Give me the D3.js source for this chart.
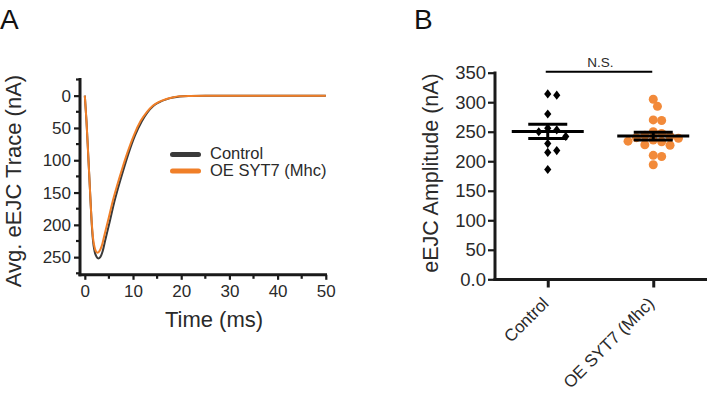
<!DOCTYPE html>
<html>
<head>
<meta charset="utf-8">
<script src="https://cdn.jsdelivr.net/npm/d3@7"></script>
<style>
  html, body { margin: 0; padding: 0; background: #fff; }
  svg { display: block; font-family: Arial, "Liberation Sans", Helvetica, sans-serif; }
</style>
</head>
<body>
<svg id="chart" width="709" height="405"></svg>
<script>
// ---------- Data ----------
// Panel A: averaged eEJC traces (time in ms, current in nA, plotted downward)
const controlTime = [0, 0.35, 0.7, 1.05, 1.4, 1.7, 2.0, 2.4, 2.8, 3.2, 3.7, 4.2, 5.2, 6.0, 6.9, 8.0, 9.0, 10.4, 11.8, 13.0, 14.2, 15.5, 16.9, 18.3, 19.7, 22, 25, 30, 40, 50];
const controlTrace = [0, 40, 91, 143, 194, 225, 240, 249, 252, 250, 241, 225, 194, 168, 143, 115, 91, 62, 40, 26, 16, 10, 5.8, 3, 1.2, 0.4, 0, 0, 0, 0];
const oeTime = [0, 0.35, 0.7, 1.05, 1.4, 1.7, 2.0, 2.3, 2.6, 3.0, 3.5, 4.0, 5.0, 5.8, 6.7, 7.8, 8.8, 10.2, 11.6, 12.9, 14.1, 15.4, 16.8, 18.2, 19.6, 22, 25, 30, 40, 50];
const oeTrace = [0, 40, 91, 143, 192, 220, 234, 241, 243, 241, 233, 218, 188, 163, 139, 112, 89, 61, 39, 25, 15.5, 9.5, 5.5, 2.8, 1.1, 0.4, 0, 0, 0, 0];
const seriesNames = ["Control", "OE SYT7 (Mhc)"];

const traceYTicks = [0, 50, 100, 150, 200, 250];
const traceXTicks = [0, 10, 20, 30, 40, 50];

// Panel B: individual eEJC amplitudes (nA)
const categories = ["Control", "OE SYT7 (Mhc)"];
const controlAmps = [314, 312, 280, 256, 253, 250, 242, 230, 218, 215, 186];
const oeAmps = [305, 293, 270, 269, 250, 247, 244, 242, 240, 239, 236, 234, 233, 228, 227, 210, 208, 194];
const ampTicks = [0, 50, 100, 150, 200, 250, 300, 350];
const sigLabel = "N.S.";

// ---------- Styles ----------
const colControl = "#3a3a3a";
const colOE = "#f07f28";
const colOEdot = "#f28a3a";
const ink = "#1a1a1a";
const txt = "#2a2a2a";

const svg = d3.select("#chart");

// ================= Panel A =================
const xA = d3.scaleLinear().domain([-1, 50]).range([80, 325.8]);
const yA = d3.scaleLinear().domain([-25, 275]).range([79.5, 273.3]);
const axisYA = 274.8;

const gA = svg.append("g");

// traces
const line = d3.line().x(d => xA(d[0])).y(d => yA(d[1])).curve(d3.curveMonotoneX);
const ctrlPts = controlTime.map((t, i) => [t, controlTrace[i]]);
const oePts = oeTime.map((t, i) => [t, oeTrace[i]]);
gA.append("path").attr("d", line(ctrlPts)).attr("fill", "none").attr("stroke", colControl).attr("stroke-width", 2);
gA.append("path").attr("d", line(oePts)).attr("fill", "none").attr("stroke", colOE).attr("stroke-width", 2);

// y axis (major labels + minor ticks every 25)
const yAxisA = d3.axisLeft(yA).tickValues(traceYTicks).tickSize(6).tickPadding(3).tickFormat(d3.format("d"));
const gyA = gA.append("g").attr("transform", "translate(80,0)").call(yAxisA);
gyA.select(".domain").remove();
gyA.selectAll(".tick line").attr("stroke", ink).attr("stroke-width", 2.2);
gyA.selectAll(".tick text").attr("font-size", 17).attr("fill", txt);
const minorY = d3.range(-25, 276, 25).filter(v => !traceYTicks.includes(v));
gA.append("g").selectAll("line").data(minorY).join("line")
  .attr("x1", 76).attr("x2", 80).attr("y1", d => yA(d)).attr("y2", d => yA(d))
  .attr("stroke", ink).attr("stroke-width", 2.2);
gA.append("line").attr("x1", 80).attr("x2", 80).attr("y1", 78).attr("y2", axisYA + 1.5)
  .attr("stroke", ink).attr("stroke-width", 3);

// x axis
const xAxisA = d3.axisBottom(xA).tickValues(traceXTicks).tickSize(5).tickPadding(5).tickFormat(d3.format("d"));
const gxA = gA.append("g").attr("transform", `translate(0,${axisYA})`).call(xAxisA);
gxA.select(".domain").remove();
gxA.selectAll(".tick line").attr("stroke", ink).attr("stroke-width", 2.2);
gxA.selectAll(".tick text").attr("font-size", 17).attr("fill", txt);
const minorX = d3.range(5, 50, 10);
gA.append("g").selectAll("line").data(minorX).join("line")
  .attr("x1", d => xA(d)).attr("x2", d => xA(d)).attr("y1", axisYA).attr("y2", axisYA + 4)
  .attr("stroke", ink).attr("stroke-width", 2.2);
gA.append("line").attr("x1", 78.5).attr("x2", 327).attr("y1", axisYA).attr("y2", axisYA)
  .attr("stroke", ink).attr("stroke-width", 3);

// titles
gA.append("text").attr("x", 214).attr("y", 326.5).attr("text-anchor", "middle")
  .attr("font-size", 22).attr("fill", txt).text("Time (ms)");
gA.append("text").attr("transform", "translate(20.5,181) rotate(-90)").attr("text-anchor", "middle")
  .attr("font-size", 22).attr("fill", txt).text("Avg. eEJC Trace (nA)");
gA.append("text").attr("x", 0).attr("y", 28.5).attr("font-size", 28).attr("fill", "#111").text("A");

// legend
const legColors = [colControl, colOE];
const leg = gA.append("g").selectAll("g").data(seriesNames).join("g")
  .attr("transform", (d, i) => `translate(0,${154.5 + i * 16.5})`);
leg.append("line").attr("x1", 172.5).attr("x2", 198.5).attr("y1", 0).attr("y2", 0)
  .attr("stroke", (d, i) => legColors[i]).attr("stroke-width", 5).attr("stroke-linecap", "round");
leg.append("text").attr("x", 210).attr("y", 4.5).attr("font-size", 16.5).attr("fill", txt).text(d => d);

// ================= Panel B =================
const xB = d3.scalePoint().domain(categories).range([495, 706]).padding(0.5);
const yB = d3.scaleLinear().domain([0, 350]).range([279.3, 72.7]);
const axisYB = 279.5;
const gB = svg.append("g");

// y axis
const yAxisB = d3.axisLeft(yB).tickValues(ampTicks).tickSize(7).tickPadding(2)
  .tickFormat(d => d === 0 ? "0.0" : d3.format("d")(d));
const gyB = gB.append("g").attr("transform", "translate(495,0)").call(yAxisB);
gyB.select(".domain").remove();
gyB.selectAll(".tick line").attr("stroke", ink).attr("stroke-width", 2.2);
gyB.selectAll(".tick text").attr("font-size", 18.5).attr("fill", txt);
gB.append("line").attr("x1", 495).attr("x2", 495).attr("y1", 71.5).attr("y2", axisYB + 1.5)
  .attr("stroke", ink).attr("stroke-width", 3);

// x axis
const xAxisB = d3.axisBottom(xB).tickSize(8).tickFormat("");
const gxB = gB.append("g").attr("transform", `translate(0,${axisYB})`).call(xAxisB);
gxB.select(".domain").remove();
gxB.selectAll(".tick line").attr("stroke", ink).attr("stroke-width", 3);
gB.append("line").attr("x1", 493.5).attr("x2", 707).attr("y1", axisYB).attr("y2", axisYB)
  .attr("stroke", ink).attr("stroke-width", 3);
gB.append("g").selectAll("text").data(categories).join("text")
  .attr("transform", d => `translate(${xB(d) + 2},${axisYB + 25}) rotate(-45)`)
  .attr("text-anchor", "end").attr("font-size", 17).attr("fill", txt).text(d => d);

// titles
gB.append("text").attr("transform", "translate(438,173) rotate(-90)").attr("text-anchor", "middle")
  .attr("font-size", 21.5).attr("fill", txt).text("eEJC Amplitude (nA)");
gB.append("text").attr("x", 414).attr("y", 28.5).attr("font-size", 28).attr("fill", "#111").text("B");

// swarm layout
function swarm(values, cx, step, minDist) {
  const pts = values.map(v => ({ v, y: yB(v) })).sort((a, b) => b.v - a.v);
  const placed = [];
  for (const p of pts) {
    let off = null;
    for (let k = 0; k < 60 && off === null; k++) {
      const cands = k === 0 ? [0] : [k * step / 2, -k * step / 2];
      for (const c of cands) {
        if (placed.every(q => Math.hypot(q.x - (cx + c), q.y - p.y) >= minDist)) { off = c; break; }
      }
    }
    p.x = cx + off;
    placed.push(p);
  }
  return placed;
}

const ctrlSw = swarm(controlAmps, xB(categories[0]), 9, 8.5);
const oeSw = swarm(oeAmps, xB(categories[1]), 8.4, 8.2);

gB.append("g").selectAll("path").data(ctrlSw).join("path")
  .attr("d", d => `M${d.x},${d.y - 4.6}L${d.x + 3.6},${d.y}L${d.x},${d.y + 4.6}L${d.x - 3.6},${d.y}Z`)
  .attr("fill", "#000");
gB.append("g").selectAll("circle").data(oeSw).join("circle")
  .attr("cx", d => d.x).attr("cy", d => d.y).attr("r", 4.5).attr("fill", colOEdot);

// mean ± SEM
const groups = [controlAmps, oeAmps];
groups.forEach((vals, i) => {
  const cx = xB(categories[i]);
  const m = d3.mean(vals);
  const sem = d3.deviation(vals) / Math.sqrt(vals.length);
  const g = gB.append("g").attr("stroke", "#000").attr("stroke-width", 3);
  g.append("line").attr("x1", cx - 36).attr("x2", cx + 36).attr("y1", yB(m)).attr("y2", yB(m));
  g.append("line").attr("x1", cx - 19.5).attr("x2", cx + 19.5).attr("y1", yB(m + sem)).attr("y2", yB(m + sem));
  g.append("line").attr("x1", cx - 19.5).attr("x2", cx + 19.5).attr("y1", yB(m - sem)).attr("y2", yB(m - sem));
  g.append("line").attr("x1", cx).attr("x2", cx).attr("y1", yB(m + sem)).attr("y2", yB(m - sem));
});

// significance bar
gB.append("line").attr("x1", xB(categories[0]) - 2).attr("x2", xB(categories[1]) - 1)
  .attr("y1", 71.7).attr("y2", 71.7).attr("stroke", "#000").attr("stroke-width", 2);
gB.append("text").attr("x", (xB(categories[0]) + xB(categories[1])) / 2).attr("y", 66.5)
  .attr("text-anchor", "middle").attr("font-size", 13.5).attr("fill", txt).text(sigLabel);
</script>
</body>
</html>
